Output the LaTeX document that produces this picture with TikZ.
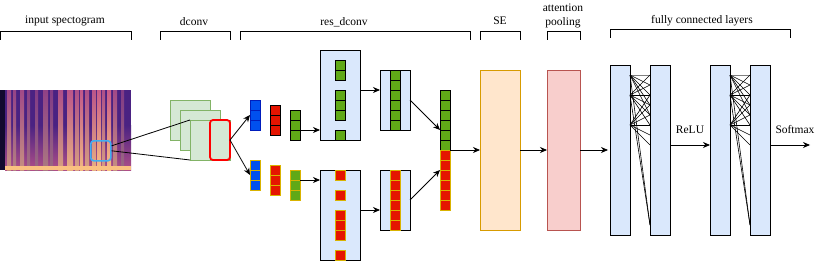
\documentclass[tikz,border=0pt]{standalone}
\usepackage{fontspec}
\setmainfont{Liberation Serif}
\usepackage{xcolor}
\usetikzlibrary{arrows.meta}
\definecolor{fillblue}{HTML}{DAE8FC}
\definecolor{fillgreen}{HTML}{D5E8D4}
\definecolor{linegreen}{HTML}{82B366}
\definecolor{fillorange}{HTML}{FFE6CC}
\definecolor{lineorange}{HTML}{D79B00}
\definecolor{fillred}{HTML}{F8CECC}
\definecolor{linered}{HTML}{B85450}
\definecolor{cellblue}{HTML}{0050EF}
\definecolor{lineblue}{HTML}{001DBC}
\definecolor{cellred}{HTML}{E51400}
\definecolor{cellgreen}{HTML}{60A917}
\definecolor{cellyellow}{HTML}{D9B300}
\definecolor{patchblue}{HTML}{3FAEF2}
\definecolor{specbase}{HTML}{4A2282}
\definecolor{specdark}{HTML}{120A2E}
\definecolor{specmid}{HTML}{C85A8A}
\definecolor{spechi}{HTML}{FAC080}
\newcommand{\cellcol}[4]{\foreach \k in {1,...,#4}{\draw[#1] (#2,{#3+10*(\k-1)}) rectangle ++(10,10);}}

\begin{document}
\begin{tikzpicture}[x=1pt,y=-1pt,
lbl/.style={font=\fontsize{11.5}{14}\selectfont,inner sep=0},
blk/.style={draw,inner sep=0,outer sep=0,anchor=north west,line width=0.8pt},
colnode/.style={inner sep=0,outer sep=0,anchor=north west,minimum width=10pt},
bcell/.style={fill=cellblue,draw=lineblue,line width=0.9pt},
bycell/.style={fill=cellblue,draw=cellyellow,line width=0.9pt},
rcell/.style={fill=cellred,draw=black,line width=0.9pt},
rycell/.style={fill=cellred,draw=cellyellow,line width=0.9pt},
gcell/.style={fill=cellgreen,draw=black,line width=0.9pt},
gycell/.style={fill=cellgreen,draw=cellyellow,line width=0.9pt},
arr/.style={->,arrows={-Stealth[length=7pt,width=6pt]},line width=0.8pt},
fan/.style={line width=0.6pt},
brk/.style={line width=0.8pt}]
\useasboundingbox (0,0) rectangle (822,262);
\node[lbl] (t1) at (65,21) {input spectogram};
\node[lbl] (t2) at (194,22) {dconv};
\node[lbl] (t3) at (344,22) {res\_dconv};
\node[lbl] (t4) at (500,21) {SE};
\node[lbl,align=center] (t5) at (563,16) {attention\\pooling};
\node[lbl] (t6) at (702,21) {fully connected layers};
\draw[brk] (0,40) -- (0,31) -- (131,31) -- (131,40);
\draw[brk] (160,40) -- (160,31) -- (230,31) -- (230,40);
\draw[brk] (240,40) -- (240,31) -- (470,31) -- (470,40);
\draw[brk] (480,40) -- (480,31) -- (520,31) -- (520,40);
\draw[brk] (547,40) -- (547,31) -- (580,31) -- (580,40);
\draw[brk] (610,38) -- (610,29) -- (790,29) -- (790,38);
\fill[specbase] (0,90) rectangle (131,170);
\shade[top color=specbase,bottom color=specmid!80!specbase] (5,125) rectangle (131,170);
\foreach \sx/\sw/\so in {7/4/70,13/3/60,20/4/70,27/3/50,35/3/45,43/5/55,50/3/45,58/5/80,67/6/90,75/4/80,80/3/95,85/4/80,92/4/90,97/4/100,102/3/80,107/4/100,113/4/70,121/3/45}
\shade[top color=specmid!\so!specbase,bottom color=spechi!\so!specbase] (\sx,90) rectangle ++(\sw,80);
\fill[spechi] (5,166) rectangle (131,170);
\fill[specdark] (0,90) rectangle (5,170);
\node[draw=patchblue,line width=1.6pt,rounded corners=3pt,minimum size=20pt,inner sep=0,anchor=north west] (patch) at (90,140) {};
\node[blk,fill=fillgreen,draw=linegreen,minimum width=40pt,minimum height=40pt] (c1) at (170,100) {};
\node[blk,fill=fillgreen,draw=linegreen,minimum width=40pt,minimum height=40pt] (c2) at (180,110) {};
\node[blk,fill=fillgreen,draw=linegreen,minimum width=40pt,minimum height=40pt] (c3) at (190,120) {};
\node[blk,draw=red,line width=1.8pt,rounded corners=3pt,minimum width=20pt,minimum height=40pt] (kern) at (210,120) {};
\draw[line width=0.8pt] ([yshift=5pt]patch.east) -- (c3.north west);
\draw[line width=0.8pt] (patch.east) -- (c3.south west);
\node[colnode,minimum height=30pt] (bt) at (250,100) {};
\node[colnode,minimum height=30pt] (bb) at (250,160) {};
\node[colnode,minimum height=30pt] (gt) at (290,110) {};
\node[colnode,minimum height=30pt] (gb) at (290,170) {};
\cellcol{bcell}{250}{100}{3}
\cellcol{rcell}{270}{105}{3}
\cellcol{gcell}{290}{110}{3}
\cellcol{bycell}{250}{160}{3}
\cellcol{rycell}{270}{165}{3}
\cellcol{gycell}{290}{170}{3}
\draw[arr] (kern.east) -- (bt.west);
\draw[arr] (kern.east) -- (bb.west);
\node[blk,fill=fillblue,minimum width=40pt,minimum height=90pt] (r1) at (320,50) {};
\node[blk,fill=fillblue,minimum width=40pt,minimum height=90pt] (r2) at (320,170) {};
\cellcol{gcell}{335}{60}{2}
\cellcol{gcell}{335}{90}{3}
\cellcol{gcell}{335}{130}{1}
\cellcol{rycell}{335}{170}{1}
\cellcol{rycell}{335}{190}{1}
\cellcol{rycell}{335}{210}{3}
\cellcol{rycell}{335}{250}{1}
\draw[arr] ([yshift=-5pt]gt.east) -- ([yshift=-5pt]gt.east -| r1.west);
\draw[arr] ([yshift=5pt]gb.east) -- ([yshift=5pt]gb.east -| r2.west);
\node[blk,fill=fillblue,minimum width=30pt,minimum height=60pt] (s1) at (380,70) {};
\node[blk,fill=fillblue,minimum width=30pt,minimum height=60pt] (s2) at (380,170) {};
\cellcol{gcell}{390}{70}{6}
\cellcol{rycell}{390}{170}{6}
\draw[arr] ([yshift=5pt]r1.east) -- ([yshift=5pt]r1.east -| s1.west);
\draw[arr] ([yshift=5pt]r2.east) -- ([yshift=5pt]r2.east -| s2.west);
\node[colnode,minimum height=120pt] (cat) at (440,90) {};
\cellcol{gcell}{440}{90}{6}
\cellcol{rycell}{440}{150}{6}
\draw[arr] (s1.east) -- ([yshift=20pt]cat.west);
\draw[arr] (s2.east) -- ([yshift=-20pt]cat.west);
\node[blk,fill=fillorange,draw=lineorange,minimum width=40pt,minimum height=160pt] (se) at (480,70) {};
\node[blk,fill=fillred,draw=linered,minimum width=33pt,minimum height=160pt] (pool) at (547,70) {};
\draw[arr] (cat.east) -- (se.west);
\draw[arr] (se.east) -- (pool.west);
\draw[arr] (pool.east) -- (pool.east -| 608,0);
\node[blk,fill=fillblue,minimum width=20pt,minimum height=170pt] (fc1) at (610,65) {};
\node[blk,fill=fillblue,minimum width=20pt,minimum height=170pt] (fc2) at (650,65) {};
\node[blk,fill=fillblue,minimum width=20pt,minimum height=170pt] (fc3) at (710,65) {};
\node[blk,fill=fillblue,minimum width=20pt,minimum height=170pt] (fc4) at (750,65) {};
\foreach \a/\b in {fc1/fc2,fc3/fc4}{
\draw[fan,gray] ([yshift=-10pt]\a.north east) -- ([yshift=-10pt]\b.north west);
\foreach \s/\t in {10/20,10/30,10/40,10/50,10/160,30/10,30/20,30/30,30/40,30/50,30/60,30/160,60/30,60/40,60/50,60/60,60/70,60/80}
\draw[fan] ([yshift=-\s pt]\a.north east) -- ([yshift=-\t pt]\b.north west);
}
\coordinate (out) at (810,145);
\draw[arr] ([yshift=5pt]fc2.east) -- ([yshift=5pt]fc2.east -| fc3.west);
\draw[arr] ([yshift=5pt]fc4.east) -- (out);
\node[lbl] (relu) at (690,130) {ReLU};
\node[lbl] (soft) at (795,130) {Softmax};
\end{tikzpicture}
\end{document}
